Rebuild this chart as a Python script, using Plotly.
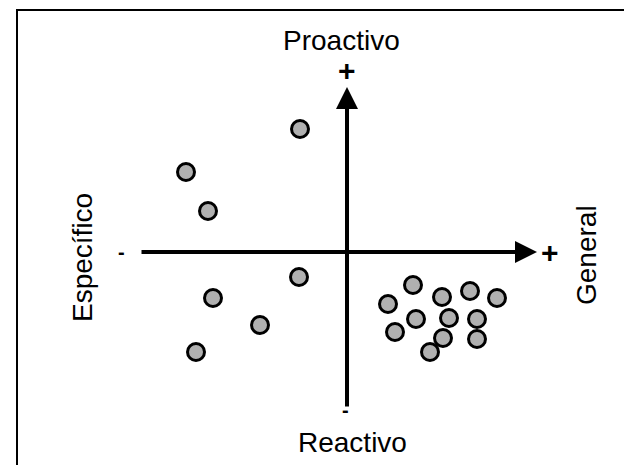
import plotly.graph_objects as go

# Points (units: arbitrary, origin at axis crossing)
left_x = [-2.35, -8.05, -6.95, -2.4, -6.7, -4.35, -7.55]
left_y = [6.15, 4.0, 2.05, -1.25, -2.3, -3.65, -5.0]
right_x = [3.3, 4.75, 6.15, 7.5, 2.05, 3.45, 5.1, 6.5, 2.4, 4.8, 6.5, 4.15]
right_y = [-1.65, -2.25, -1.95, -2.3, -2.6, -3.35, -3.3, -3.35, -4.0, -4.3, -4.35, -5.0]

# axis extents
h_axis_x = [-10.35, 9.5]
v_axis_y = [-7.8, 8.25]

# labels
labels = ["Proactivo", "Reactivo", "Específico", "General"]
label_x = [-0.3, 0.25, -13.25, 11.95]
label_y = [10.6, -9.5, -0.3, -0.15]
label_rot = [0, 0, -90, -90]

plus_x = [10.15, 0.0]
plus_y = [0.0, 9.1]
minus_x = [-11.3, -0.1]
minus_y = [0.0, -7.9]

# frame
frame_x = [-16.5, -16.5, 15.0]
frame_y = [-11.5, 12.1, 12.1]

xr = [-16.95, 14.65]
yr = [-11.05, 12.2]

fig = go.Figure()
fig.add_trace(go.Scatter(x=frame_x, y=frame_y, mode="lines",
                         line=dict(color="black", width=2), hoverinfo="skip"))

# axes lines with arrowheads via annotations
fig.add_annotation(x=h_axis_x[1], y=0, ax=h_axis_x[0], ay=0,
                   xref="x", yref="y", axref="x", ayref="y",
                   showarrow=True, arrowhead=2, arrowsize=1.1, arrowwidth=4,
                   arrowcolor="black", text="")
fig.add_annotation(x=0, y=v_axis_y[1], ax=0, ay=v_axis_y[0],
                   xref="x", yref="y", axref="x", ayref="y",
                   showarrow=True, arrowhead=2, arrowsize=1.1, arrowwidth=4,
                   arrowcolor="black", text="")

fig.add_trace(go.Scatter(x=left_x + right_x, y=left_y + right_y, mode="markers",
                         marker=dict(symbol="circle", size=17, color="#b0b0b0",
                                     line=dict(color="black", width=3)),
                         hoverinfo="skip"))

for t, x, y, r in zip(labels, label_x, label_y, label_rot):
    fig.add_annotation(x=x, y=y, xref="x", yref="y", text=t, showarrow=False,
                       textangle=r, font=dict(family="Liberation Sans", size=28, color="black"),
                       xanchor="center", yanchor="middle")

for x, y in zip(plus_x, plus_y):
    fig.add_annotation(x=x, y=y, xref="x", yref="y", text="<b>+</b>", showarrow=False,
                       font=dict(family="Liberation Sans", size=30, color="black"),
                       xanchor="center", yanchor="middle")
for x, y in zip(minus_x, minus_y):
    fig.add_annotation(x=x, y=y, xref="x", yref="y", text="<b>-</b>", showarrow=False,
                       font=dict(family="Liberation Sans", size=20, color="black"),
                       xanchor="center", yanchor="middle")

fig.update_layout(width=632, height=465, margin=dict(l=0, r=0, t=0, b=0),
                  paper_bgcolor="white", plot_bgcolor="white", showlegend=False,
                  xaxis=dict(range=xr, visible=False, fixedrange=True),
                  yaxis=dict(range=yr, visible=False, fixedrange=True))
fig.write_html("out.html")
